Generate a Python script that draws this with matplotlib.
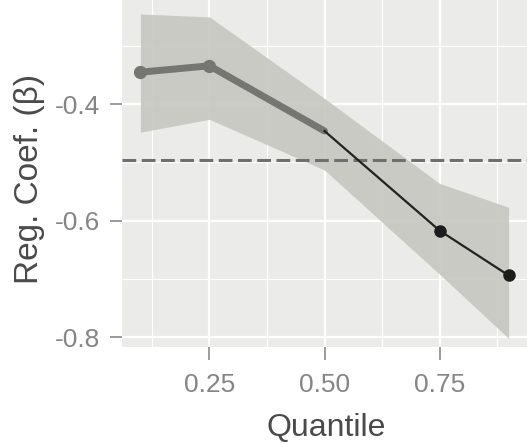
import numpy as np
import matplotlib.pyplot as plt

plt.rcParams['font.family'] = ['Liberation Sans', 'DejaVu Sans']

# quantile regression estimates
quantiles = [0.10, 0.25, 0.50, 0.75, 0.90]
coef = [-0.345, -0.334, -0.446, -0.617, -0.694]
ci_upper = [-0.245, -0.250, -0.390, -0.536, -0.577]
ci_lower = [-0.448, -0.426, -0.513, -0.692, -0.802]
ols_coef = -0.495

fig = plt.figure(figsize=(5.27, 4.43), dpi=100)
ax = fig.add_axes([0.2315, 0.2167, 0.7685, 0.7833])

ax.set_facecolor('#ebebe9')
ax.set_xlim(0.06, 0.94)
ax.set_ylim(-0.817, -0.221)

# grid like ggplot
ax.set_xticks([0.25, 0.50, 0.75])
ax.set_yticks([-0.8, -0.6, -0.4])
ax.set_xticks([0.125, 0.375, 0.625, 0.875], minor=True)
ax.set_yticks([-0.7, -0.5, -0.3], minor=True)
ax.grid(which='major', color='white', linewidth=1.6)
ax.grid(which='minor', color='white', linewidth=0.8)
ax.set_axisbelow(True)
for s in ax.spines.values():
    s.set_visible(False)

ax.fill_between(quantiles, ci_lower, ci_upper, color='#c6c7bf', alpha=0.9, lw=0, zorder=2)
ax.axhline(ols_coef, color='#6f6f6f', lw=2.2, ls=(0, (4.5, 1.8)), zorder=3)

# not significant part: thick grey; significant part: thin black
ax.plot(quantiles[:3], coef[:3], color='#757571', lw=5, solid_capstyle='round', zorder=4)
ax.plot(quantiles[:2], coef[:2], 'o', color='#757571', ms=8.5, zorder=5)
ax.plot(quantiles[2:], coef[2:], color='#222222', lw=1.6, zorder=4)
ax.plot(quantiles[3:], coef[3:], 'o', color='#1c1c1c', ms=8, zorder=5)

ax.set_xticklabels(['0.25', '0.50', '0.75'])
ax.set_yticklabels(['-0.8', '-0.6', '-0.4'])
ax.tick_params(which='major', length=9, width=1.2, color='#8a8a8a',
               labelcolor='#858585', labelsize=19)
ax.tick_params(axis='x', pad=10)
ax.tick_params(axis='y', pad=7)
ax.tick_params(which='minor', length=0)

ax.set_xlabel('Quantile', fontsize=23, color='#4a4a4a')
ax.set_ylabel('Reg. Coef. (β)', fontsize=24, color='#4a4a4a')
ax.xaxis.set_label_coords(0.504, -0.19)
ax.yaxis.set_label_coords(-0.19, 0.485)

fig.savefig('out.png', dpi=100)
